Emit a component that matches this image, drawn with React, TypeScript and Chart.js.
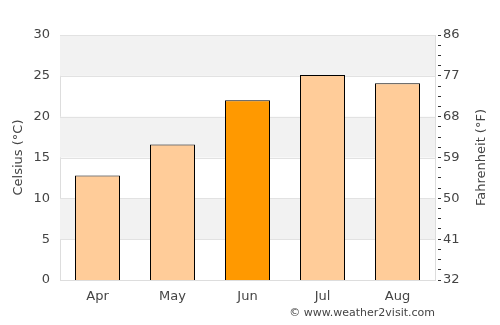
import React, { useEffect, useRef } from "react";
import { Chart, registerables } from "chart.js";

Chart.register(...registerables);

const months = ["Apr", "May", "Jun", "Jul", "Aug"];
const celsiusValues = [12.8, 16.6, 22, 25.1, 24.1];
const barColors = ["#ffcc99", "#ffcc99", "#ff9900", "#ffcc99", "#ffcc99"];
const fahrenheitLabels = ["32", "41", "50", "59", "68", "77", "86"];
const bandRanges = [
  [5, 10],
  [15, 20],
  [25, 30],
];

const FONT = "'DejaVu Sans', sans-serif";
const TEXT = "#444";

const decorPlugin = {
  id: "decor",
  beforeDatasetsDraw(chart: any) {
    const { ctx, chartArea, scales } = chart;
    const y = scales.y;
    ctx.save();
    ctx.fillStyle = "#f2f2f2";
    for (const [a, b] of bandRanges) {
      const top = y.getPixelForValue(b);
      const bot = y.getPixelForValue(a);
      ctx.fillRect(chartArea.left, top, chartArea.right - chartArea.left, bot - top);
    }
    ctx.strokeStyle = "#e2e2e2";
    ctx.lineWidth = 1;
    for (let v = 5; v <= 30; v += 5) {
      const py = Math.round(y.getPixelForValue(v)) + 0.5;
      ctx.beginPath();
      ctx.moveTo(chartArea.left, py);
      ctx.lineTo(chartArea.right, py);
      ctx.stroke();
    }
    ctx.restore();
  },
  afterDraw(chart: any) {
    const { ctx, chartArea } = chart;
    const cy = (chartArea.top + chartArea.bottom) / 2;
    ctx.save();
    ctx.fillStyle = TEXT;
    ctx.font = `13px ${FONT}`;
    ctx.textAlign = "center";
    ctx.textBaseline = "middle";
    ctx.translate(19, cy);
    ctx.rotate(-Math.PI / 2);
    ctx.fillText("Celsius (°C)", 0, 0);
    ctx.restore();
    ctx.save();
    ctx.fillStyle = TEXT;
    ctx.font = `13px ${FONT}`;
    ctx.textAlign = "center";
    ctx.textBaseline = "middle";
    ctx.translate(482, cy);
    ctx.rotate(-Math.PI / 2);
    ctx.fillText("Fahrenheit (°F)", 0, 0);
    ctx.restore();
    ctx.save();
    ctx.fillStyle = TEXT;
    ctx.font = `11px ${FONT}`;
    ctx.textAlign = "right";
    ctx.textBaseline = "middle";
    ctx.fillText("© www.weather2visit.com", 435, 313);
    ctx.restore();
  },
};

export default function App() {
  const ref = useRef<HTMLCanvasElement>(null);
  useEffect(() => {
    document.body.style.margin = "0";
    const chart = new Chart(ref.current!, {
      type: "bar",
      data: {
        labels: months,
        datasets: [
          {
            data: celsiusValues,
            backgroundColor: barColors,
            borderColor: "#000",
            borderWidth: 1,
            barPercentage: 0.6,
            categoryPercentage: 1,
            yAxisID: "y",
          },
        ],
      },
      options: {
        animation: false,
        responsive: false,
        maintainAspectRatio: false,
        layout: { padding: { top: 35, left: 0, right: 0, bottom: 0 } },
        plugins: { legend: { display: false }, tooltip: { enabled: false } },
        scales: {
          x: {
            grid: { display: false, drawTicks: false },
            border: { display: true, color: "#dddddd" },
            ticks: { color: TEXT, font: { family: FONT, size: 13 }, padding: 9 },
            afterFit: (s: any) => {
              s.height = 45;
            },
          },
          y: {
            position: "left",
            min: 0,
            max: 30,
            ticks: { stepSize: 5, color: TEXT, font: { family: FONT, size: 13 }, padding: 10 },
            grid: { display: false, drawTicks: false },
            border: { display: true, color: "#dddddd" },
            afterFit: (s: any) => {
              s.width = 60;
            },
          },
          y2: {
            position: "right",
            min: 0,
            max: 30,
            afterBuildTicks: (s: any) => {
              const t = [];
              for (let i = 0; i <= 24; i++) t.push({ value: i * 1.25 });
              s.ticks = t;
            },
            ticks: {
              autoSkip: false,
              color: TEXT,
              font: { family: FONT, size: 13 },
              padding: 2,
              callback: (v: any) => {
                const n = Number(v);
                if (Math.abs(n / 5 - Math.round(n / 5)) < 1e-6) return fahrenheitLabels[Math.round(n / 5)];
                return "";
              },
            },
            grid: {
              display: true,
              drawOnChartArea: false,
              drawTicks: true,
              tickLength: 6,
              tickColor: "#333",
              tickBorderDash: [0, 2, 4, 100],
            },
            border: { display: true, color: "#dddddd" },
            afterFit: (s: any) => {
              s.width = 65;
            },
          },
        },
      },
      plugins: [decorPlugin],
    });
    return () => chart.destroy();
  }, []);
  return <canvas ref={ref} width={500} height={325} style={{ display: "block" }} />;
}
